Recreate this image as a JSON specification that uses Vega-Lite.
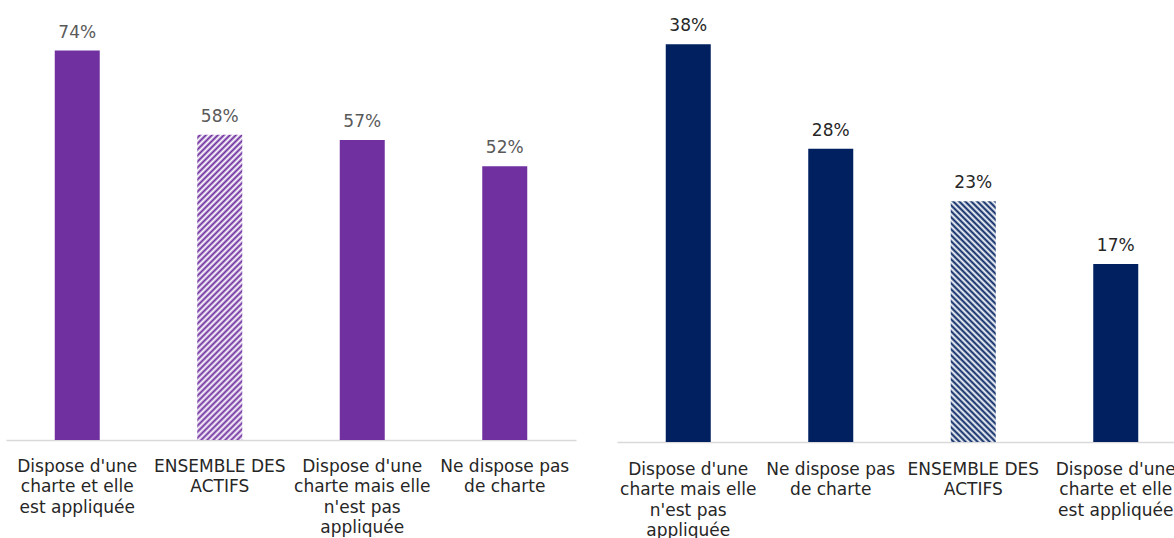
{
  "$schema": "https://vega.github.io/schema/vega-lite/v6.json",
  "autosize": {"type": "pad"},
  "padding": {"left": 6, "top": 17, "right": 0, "bottom": 0},
  "background": "white",
  "spacing": 41,
  "bounds": "flush",
  "config": {"view": {"stroke": null}, "font": "DejaVu Sans"},
  "datasets": {
    "left": [
      {"cat": "Dispose d'une|charte et elle|est appliquée", "v": 0.74, "hatch": 0},
      {"cat": "ENSEMBLE DES|ACTIFS", "v": 0.58, "hatch": 1},
      {"cat": "Dispose d'une|charte mais elle|n'est pas|appliquée", "v": 0.57, "hatch": 0},
      {"cat": "Ne dispose pas|de charte", "v": 0.52, "hatch": 0}
    ],
    "right": [
      {"cat": "Dispose d'une|charte mais elle|n'est pas|appliquée", "v": 0.38, "hatch": 0},
      {"cat": "Ne dispose pas|de charte", "v": 0.28, "hatch": 0},
      {"cat": "ENSEMBLE DES|ACTIFS", "v": 0.23, "hatch": 1},
      {"cat": "Dispose d'une|charte et elle|est appliquée", "v": 0.17, "hatch": 0}
    ]
  },
  "hconcat": [
    {
      "width": 570,
      "height": 421,
      "data": {"name": "left"},
      "encoding": {
        "x": {"field": "cat", "type": "nominal", "sort": null,
          "scale": {"paddingInner": 0, "paddingOuter": 0},
          "axis": {"title": null, "labelAngle": 0, "ticks": false, "domainColor": "#d9d9d9", "domainWidth": 1.5,
            "labelFontSize": 17, "labelColor": "#262626", "labelPadding": 18, "labelLineHeight": 20.5,
            "labelLimit": 300, "labelOverlap": false, "labelExpr": "split(datum.label, '|')"}},
        "y": {"field": "v", "type": "quantitative", "scale": {"domain": [0, 0.8]}, "axis": null}
      },
      "layer": [
        {
          "mark": {"type": "bar", "width": 45},
          "encoding": {
            "fill": {
              "condition": {"test": "datum.hatch == 1", "value": {
                "gradient": "linear", "x1": 0, "y1": 0, "x2": 0.2841, "y2": 1.9253,
                "stops": [
{"offset":0,"color":"#fff"},{"offset":0.005,"color":"#7030a0"},{"offset":0.01,"color":"#fff"},{"offset":0.015,"color":"#7030a0"},{"offset":0.02,"color":"#fff"},{"offset":0.025,"color":"#7030a0"},{"offset":0.03,"color":"#fff"},{"offset":0.035,"color":"#7030a0"},{"offset":0.04,"color":"#fff"},{"offset":0.045,"color":"#7030a0"},
{"offset":0.05,"color":"#fff"},{"offset":0.055,"color":"#7030a0"},{"offset":0.06,"color":"#fff"},{"offset":0.065,"color":"#7030a0"},{"offset":0.07,"color":"#fff"},{"offset":0.075,"color":"#7030a0"},{"offset":0.08,"color":"#fff"},{"offset":0.085,"color":"#7030a0"},{"offset":0.09,"color":"#fff"},{"offset":0.095,"color":"#7030a0"},
{"offset":0.1,"color":"#fff"},{"offset":0.105,"color":"#7030a0"},{"offset":0.11,"color":"#fff"},{"offset":0.115,"color":"#7030a0"},{"offset":0.12,"color":"#fff"},{"offset":0.125,"color":"#7030a0"},{"offset":0.13,"color":"#fff"},{"offset":0.135,"color":"#7030a0"},{"offset":0.14,"color":"#fff"},{"offset":0.145,"color":"#7030a0"},
{"offset":0.15,"color":"#fff"},{"offset":0.155,"color":"#7030a0"},{"offset":0.16,"color":"#fff"},{"offset":0.165,"color":"#7030a0"},{"offset":0.17,"color":"#fff"},{"offset":0.175,"color":"#7030a0"},{"offset":0.18,"color":"#fff"},{"offset":0.185,"color":"#7030a0"},{"offset":0.19,"color":"#fff"},{"offset":0.195,"color":"#7030a0"},
{"offset":0.2,"color":"#fff"},{"offset":0.205,"color":"#7030a0"},{"offset":0.21,"color":"#fff"},{"offset":0.215,"color":"#7030a0"},{"offset":0.22,"color":"#fff"},{"offset":0.225,"color":"#7030a0"},{"offset":0.23,"color":"#fff"},{"offset":0.235,"color":"#7030a0"},{"offset":0.24,"color":"#fff"},{"offset":0.245,"color":"#7030a0"},
{"offset":0.25,"color":"#fff"},{"offset":0.255,"color":"#7030a0"},{"offset":0.26,"color":"#fff"},{"offset":0.265,"color":"#7030a0"},{"offset":0.27,"color":"#fff"},{"offset":0.275,"color":"#7030a0"},{"offset":0.28,"color":"#fff"},{"offset":0.285,"color":"#7030a0"},{"offset":0.29,"color":"#fff"},{"offset":0.295,"color":"#7030a0"},
{"offset":0.3,"color":"#fff"},{"offset":0.305,"color":"#7030a0"},{"offset":0.31,"color":"#fff"},{"offset":0.315,"color":"#7030a0"},{"offset":0.32,"color":"#fff"},{"offset":0.325,"color":"#7030a0"},{"offset":0.33,"color":"#fff"},{"offset":0.335,"color":"#7030a0"},{"offset":0.34,"color":"#fff"},{"offset":0.345,"color":"#7030a0"},
{"offset":0.35,"color":"#fff"},{"offset":0.355,"color":"#7030a0"},{"offset":0.36,"color":"#fff"},{"offset":0.365,"color":"#7030a0"},{"offset":0.37,"color":"#fff"},{"offset":0.375,"color":"#7030a0"},{"offset":0.38,"color":"#fff"},{"offset":0.385,"color":"#7030a0"},{"offset":0.39,"color":"#fff"},{"offset":0.395,"color":"#7030a0"},
{"offset":0.4,"color":"#fff"},{"offset":0.405,"color":"#7030a0"},{"offset":0.41,"color":"#fff"},{"offset":0.415,"color":"#7030a0"},{"offset":0.42,"color":"#fff"},{"offset":0.425,"color":"#7030a0"},{"offset":0.43,"color":"#fff"},{"offset":0.435,"color":"#7030a0"},{"offset":0.44,"color":"#fff"},{"offset":0.445,"color":"#7030a0"},
{"offset":0.45,"color":"#fff"},{"offset":0.455,"color":"#7030a0"},{"offset":0.46,"color":"#fff"},{"offset":0.465,"color":"#7030a0"},{"offset":0.47,"color":"#fff"},{"offset":0.475,"color":"#7030a0"},{"offset":0.48,"color":"#fff"},{"offset":0.485,"color":"#7030a0"},{"offset":0.49,"color":"#fff"},{"offset":0.495,"color":"#7030a0"},
{"offset":0.5,"color":"#fff"},{"offset":0.505,"color":"#7030a0"},{"offset":0.51,"color":"#fff"},{"offset":0.515,"color":"#7030a0"},{"offset":0.52,"color":"#fff"},{"offset":0.525,"color":"#7030a0"},{"offset":0.53,"color":"#fff"},{"offset":0.535,"color":"#7030a0"},{"offset":0.54,"color":"#fff"},{"offset":0.545,"color":"#7030a0"},
{"offset":0.55,"color":"#fff"},{"offset":0.555,"color":"#7030a0"},{"offset":0.56,"color":"#fff"},{"offset":0.565,"color":"#7030a0"},{"offset":0.57,"color":"#fff"},{"offset":0.575,"color":"#7030a0"},{"offset":0.58,"color":"#fff"},{"offset":0.585,"color":"#7030a0"},{"offset":0.59,"color":"#fff"}
                ]}},
              "value": "#7030a0"
            }
          }
        },
        {
          "mark": {"type": "text", "baseline": "bottom", "dy": -9, "fontSize": 17, "color": "#595959"},
          "encoding": {"text": {"field": "v", "type": "quantitative", "format": ".0%"}}
        }
      ]
    },
    {
      "width": 570,
      "height": 423,
      "data": {"name": "right"},
      "encoding": {
        "x": {"field": "cat", "type": "nominal", "sort": null,
          "scale": {"paddingInner": 0, "paddingOuter": 0},
          "axis": {"title": null, "labelAngle": 0, "ticks": false, "domainColor": "#d9d9d9", "domainWidth": 1.5,
            "labelFontSize": 17, "labelColor": "#262626", "labelPadding": 19, "labelLineHeight": 20.5,
            "labelLimit": 300, "labelOverlap": false, "labelExpr": "split(datum.label, '|')"}},
        "y": {"field": "v", "type": "quantitative", "scale": {"domain": [0, 0.404]}, "axis": null}
      },
      "layer": [
        {
          "mark": {"type": "bar", "width": 45},
          "encoding": {
            "fill": {
              "condition": {"test": "datum.hatch == 1", "value": {
                "gradient": "linear", "x1": 0, "y1": 1, "x2": 0.45, "y2": -1.408,
                "stops": [
{"offset":0,"color":"#fff"},{"offset":0.005,"color":"#002060"},{"offset":0.01,"color":"#fff"},{"offset":0.015,"color":"#002060"},{"offset":0.02,"color":"#fff"},{"offset":0.025,"color":"#002060"},{"offset":0.03,"color":"#fff"},{"offset":0.035,"color":"#002060"},{"offset":0.04,"color":"#fff"},{"offset":0.045,"color":"#002060"},
{"offset":0.05,"color":"#fff"},{"offset":0.055,"color":"#002060"},{"offset":0.06,"color":"#fff"},{"offset":0.065,"color":"#002060"},{"offset":0.07,"color":"#fff"},{"offset":0.075,"color":"#002060"},{"offset":0.08,"color":"#fff"},{"offset":0.085,"color":"#002060"},{"offset":0.09,"color":"#fff"},{"offset":0.095,"color":"#002060"},
{"offset":0.1,"color":"#fff"},{"offset":0.105,"color":"#002060"},{"offset":0.11,"color":"#fff"},{"offset":0.115,"color":"#002060"},{"offset":0.12,"color":"#fff"},{"offset":0.125,"color":"#002060"},{"offset":0.13,"color":"#fff"},{"offset":0.135,"color":"#002060"},{"offset":0.14,"color":"#fff"},{"offset":0.145,"color":"#002060"},
{"offset":0.15,"color":"#fff"},{"offset":0.155,"color":"#002060"},{"offset":0.16,"color":"#fff"},{"offset":0.165,"color":"#002060"},{"offset":0.17,"color":"#fff"},{"offset":0.175,"color":"#002060"},{"offset":0.18,"color":"#fff"},{"offset":0.185,"color":"#002060"},{"offset":0.19,"color":"#fff"},{"offset":0.195,"color":"#002060"},
{"offset":0.2,"color":"#fff"},{"offset":0.205,"color":"#002060"},{"offset":0.21,"color":"#fff"},{"offset":0.215,"color":"#002060"},{"offset":0.22,"color":"#fff"},{"offset":0.225,"color":"#002060"},{"offset":0.23,"color":"#fff"},{"offset":0.235,"color":"#002060"},{"offset":0.24,"color":"#fff"},{"offset":0.245,"color":"#002060"},
{"offset":0.25,"color":"#fff"},{"offset":0.255,"color":"#002060"},{"offset":0.26,"color":"#fff"},{"offset":0.265,"color":"#002060"},{"offset":0.27,"color":"#fff"},{"offset":0.275,"color":"#002060"},{"offset":0.28,"color":"#fff"},{"offset":0.285,"color":"#002060"},{"offset":0.29,"color":"#fff"},{"offset":0.295,"color":"#002060"},
{"offset":0.3,"color":"#fff"},{"offset":0.305,"color":"#002060"},{"offset":0.31,"color":"#fff"},{"offset":0.315,"color":"#002060"},{"offset":0.32,"color":"#fff"},{"offset":0.325,"color":"#002060"},{"offset":0.33,"color":"#fff"},{"offset":0.335,"color":"#002060"},{"offset":0.34,"color":"#fff"},{"offset":0.345,"color":"#002060"},
{"offset":0.35,"color":"#fff"},{"offset":0.355,"color":"#002060"},{"offset":0.36,"color":"#fff"},{"offset":0.365,"color":"#002060"},{"offset":0.37,"color":"#fff"},{"offset":0.375,"color":"#002060"},{"offset":0.38,"color":"#fff"},{"offset":0.385,"color":"#002060"},{"offset":0.39,"color":"#fff"},{"offset":0.395,"color":"#002060"},
{"offset":0.4,"color":"#fff"},{"offset":0.405,"color":"#002060"},{"offset":0.41,"color":"#fff"},{"offset":0.415,"color":"#002060"},{"offset":0.42,"color":"#fff"},{"offset":0.425,"color":"#002060"},{"offset":0.43,"color":"#fff"},{"offset":0.435,"color":"#002060"},{"offset":0.44,"color":"#fff"},{"offset":0.445,"color":"#002060"},
{"offset":0.45,"color":"#fff"},{"offset":0.455,"color":"#002060"},{"offset":0.46,"color":"#fff"},{"offset":0.465,"color":"#002060"},{"offset":0.47,"color":"#fff"},{"offset":0.475,"color":"#002060"},{"offset":0.48,"color":"#fff"}
                ]}},
              "value": "#002060"
            }
          }
        },
        {
          "mark": {"type": "text", "baseline": "bottom", "dy": -9, "fontSize": 17, "color": "#262626"},
          "encoding": {"text": {"field": "v", "type": "quantitative", "format": ".0%"}}
        }
      ]
    }
  ]
}
